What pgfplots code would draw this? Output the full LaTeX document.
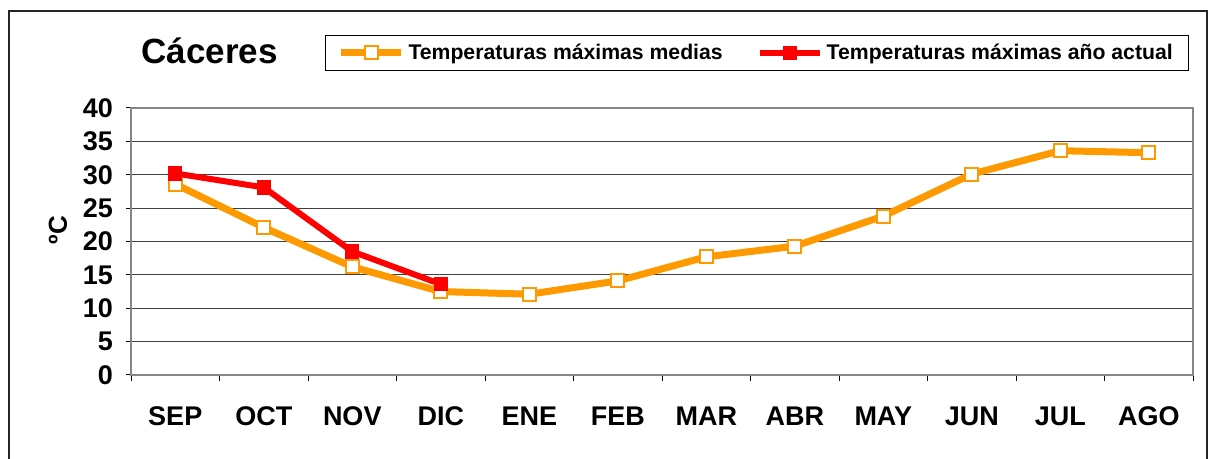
\documentclass[border=0pt]{standalone}
\usepackage{fontspec}
\setmainfont{Liberation Sans}
\usepackage{pgfplots}
\pgfplotsset{compat=1.18}
\definecolor{cOrange}{HTML}{FF9900}
\definecolor{cRed}{HTML}{FF0000}
\definecolor{cFrame}{HTML}{868686}
\begin{document}
\begin{tikzpicture}[x=1pt,y=1pt]
\useasboundingbox (0,0) rectangle (606.5,229.5);
\draw[black!85, line width=0.8pt] (4.5,-5) -- (4.5,224) -- (603.5,224) -- (603.5,-5);
\node[anchor=base west, font=\fontsize{17.5}{20}\selectfont\bfseries, inner sep=0pt] at (70.5,197.8) {Cáceres};
\begin{axis}[
  at={(65.5pt,42pt)}, anchor=south west,
  scale only axis, width=531pt, height=133.5pt,
  xmin=-0.5, xmax=11.5, ymin=0, ymax=40,
  xtick={0,...,11},
  xticklabels={SEP,OCT,NOV,DIC,ENE,FEB,MAR,ABR,MAY,JUN,JUL,AGO},
  minor xtick={-0.5,0.5,...,11.5},
  ytick={0,5,...,40},
  tick pos=left, tick align=outside,
  major tick length=2.5pt, minor tick length=3pt,
  major x tick style={draw=none},
  minor x tick style={black, line width=0.5pt},
  ytick style={black, line width=0.5pt},
  ymajorgrids, grid style={black!75, line width=0.5pt},
  axis line style={cFrame, line width=1pt},
  ticklabel style={font=\fontsize{13.5}{16}\selectfont\bfseries},
  /pgf/number format/assume math mode=true,
  xticklabel style={yshift=-10pt},
  yticklabel style={xshift=-3pt},
  ylabel={ºC},
  every axis y label/.style={at={(axis description cs:0,0.5)}, xshift=-36.5pt, yshift=5.75pt, rotate=90, anchor=center, font=\fontsize{13}{15}\selectfont\bfseries},
  legend columns=2,
  legend cell align=left,
  legend style={at={(axis description cs:0,1)}, anchor=north west, xshift=97pt, yshift=36.5pt,
    draw=black, line width=0.5pt, inner xsep=6pt, inner ysep=2pt,
    font=\fontsize{10.6}{12}\selectfont\bfseries,
    /tikz/every even column/.append style={column sep=15pt}},
  legend image code/.code={\draw[mark repeat=2, mark phase=2, #1] plot coordinates {(0pt,0pt) (15pt,0pt) (30pt,0pt)};},
]
\addplot[cOrange, line width=3.5pt, mark=square*, mark size=3.25pt,
  mark options={fill=white, draw=cOrange, line width=1pt, solid}]
  coordinates {(0,28.6) (1,22.1) (2,16.2) (3,12.5) (4,12.1) (5,14.1) (6,17.7) (7,19.3) (8,23.8) (9,30.1) (10,33.6) (11,33.3)};
\addlegendentry{Temperaturas máximas medias}
\addplot[cRed, line width=3pt, mark=square*, mark size=3.3pt,
  mark options={fill=cRed, draw=cRed, line width=0.5pt, solid}]
  coordinates {(0,30.2) (1,28.1) (2,18.5) (3,13.6)};
\addlegendentry{Temperaturas máximas año actual}
\end{axis}
\end{tikzpicture}
\end{document}
